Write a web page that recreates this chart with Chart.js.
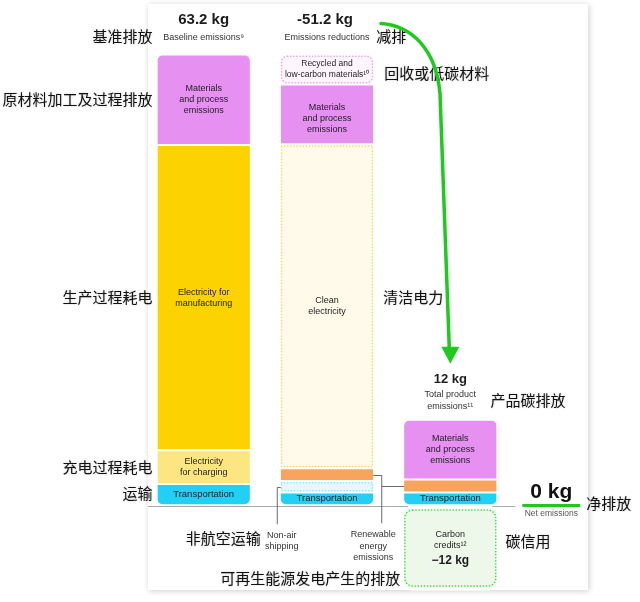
<!DOCTYPE html>
<html>
<head>
<meta charset="utf-8">
<script src="https://cdn.jsdelivr.net/npm/chart.js@4.4.1/dist/chart.umd.min.js"></script>
<style>
  html, body { margin: 0; padding: 0; background: #fff; }
  #wrap { width: 640px; height: 602px; }
</style>
</head>
<body>
<div id="wrap"><canvas id="footprint" width="640" height="602"></canvas></div>
<script>
// the three columns of the waterfall
const categories = ['Baseline emissions', 'Emissions reductions', 'Total product emissions'];
const headerValues = ['63.2 kg', '-51.2 kg', '12 kg'];

// kg CO2e of every slice, null where the column has no such slice (stacked bottom to top)
const transportation = [3.0, 1.8, 1.8];
const nonAirShipping = [null, 1.6, null];
const renewableEnergy = [null, 1.8, 1.8];
const chargingElectricity = [4.7, null, null];
const manufacturingElectricity = [42.8, null, null];
const cleanElectricity = [null, 45.4, null];
const materialsProcess = [12.7, 8.4, 8.4];
const recycledMaterials = [null, 4.2, null];
const carbonCredits = [null, null, -12];

const R = 6;
const FONT = '"Liberation Sans", Arial, sans-serif';
const CJK = '"Noto Sans CJK SC", sans-serif';
const materialsText = ['Materials', 'and process', 'emissions'];

// builds one dataset with the common look (white 1px top/bottom border = the gaps)
const mkSet = (key, data, color, extra) => Object.assign({
    key, label: key, data,
    backgroundColor: color,
    borderColor: '#ffffff',
    borderWidth: {top: 1, bottom: 1, left: 0, right: 0},
    borderSkipped: false,
    borderRadius: 0,
    categoryPercentage: 0.75,
    barPercentage: 1,
    segLabels: [null, null, null],
    labelSize: 9,
}, extra);

const datasets = [
    mkSet('transportation', transportation, '#22d0f5', {
        borderRadius: {topLeft: 0, topRight: 0, bottomLeft: R, bottomRight: R},
        segLabels: [['Transportation'], ['Transportation'], ['Transportation']],
        labelSize: 9.5,
    }),
    mkSet('nonAir', nonAirShipping, '#e5f8fd', {dotColor: '#8fe2f7'}),
    mkSet('renewable', renewableEnergy, '#f9a45e'),
    mkSet('charging', chargingElectricity, '#fde681', {
        segLabels: [['Electricity', 'for charging'], null, null],
    }),
    mkSet('manufacturing', manufacturingElectricity, '#fcd300', {
        segLabels: [['Electricity for', 'manufacturing'], null, null],
    }),
    mkSet('clean', cleanElectricity, '#fffae9', {
        dotColor: '#f8da5c',
        segLabels: [null, ['Clean', 'electricity'], null],
    }),
    mkSet('materials', materialsProcess, '#e690f2', {
        borderRadius: (ctx) => ctx.dataIndex === 1 ? 0 : {topLeft: R, topRight: R, bottomLeft: 0, bottomRight: 0},
        segLabels: [materialsText, materialsText, materialsText],
    }),
    mkSet('recycled', recycledMaterials, '#fdf6fd', {
        borderRadius: {topLeft: R, topRight: R, bottomLeft: R, bottomRight: R},
        dotColor: '#ec9ff5', dotRadius: R,
        segLabels: [null, ['Recycled and', 'low-carbon materials¹⁰'], null],
        labelSize: 8.5,
    }),
    mkSet('credits', carbonCredits, '#edf8ea', {
        borderWidth: {top: 4, bottom: 4, left: 0, right: 0},
        borderRadius: {topLeft: 8, topRight: 8, bottomLeft: 8, bottomRight: 8},
        dotColor: '#3edc45', dotRadius: 8,
        segLabels: [null, null, ['Carbon', 'credits¹²', {t: '\u221212 kg', bold: true}]],
    }),
];

const boxOf = (el) => {
    const p = el.getProps(['x', 'y', 'base', 'width'], true);
    return {l: p.x - p.width / 2, r: p.x + p.width / 2, t: Math.min(p.y, p.base), b: Math.max(p.y, p.base), cx: p.x, cy: (p.y + p.base) / 2};
};

const txt = (c, s, x, y, font, color, align) => {
    c.font = font; c.fillStyle = color || '#1d1d1f';
    c.textAlign = align || 'center'; c.textBaseline = 'middle';
    c.fillText(s, x, y);
};

const cjk = (c, s, x, y, align) => {
    c.save();
    c.shadowColor = 'rgba(0,0,0,0.25)'; c.shadowBlur = 2;
    txt(c, s, x, y, '15px ' + CJK, '#111', align);
    c.restore();
};

// everything drawn around the bars: card, zero line, outlines, labels, leaders, arrow
const annotate = {
    id: 'annotate',
    beforeDraw(chart) {
        const c = chart.ctx;
        c.save();
        c.fillStyle = '#fff';
        c.shadowColor = 'rgba(0,0,0,0.2)';
        c.shadowBlur = 6; c.shadowOffsetX = 1; c.shadowOffsetY = 1;
        c.fillRect(148, 4, 440, 586);
        c.restore();
    },
    beforeDatasetsDraw(chart) {
        const c = chart.ctx;
        const y0 = Math.round(chart.scales.y.getPixelForValue(0)) + 1.5;
        c.save();
        c.strokeStyle = '#a8a8a8'; c.lineWidth = 1;
        c.beginPath(); c.moveTo(148, y0); c.lineTo(chart.scales.x.getPixelForValue(2) + 65, y0); c.stroke();
        c.restore();
    },
    afterDatasetsDraw(chart) {
        const c = chart.ctx;
        const xs = chart.scales.x, ys = chart.scales.y;
        const idx = {};
        chart.data.datasets.forEach((ds, i) => { idx[ds.key] = i; });
        const seg = (key, col) => boxOf(chart.getDatasetMeta(idx[key]).data[col]);

        // dotted outlines and text inside slices
        chart.data.datasets.forEach((ds, i) => {
            chart.getDatasetMeta(i).data.forEach((el, col) => {
                if (ds.data[col] == null) return;
                const b = boxOf(el);
                if (ds.dotColor) {
                    const t = b.t + ds.borderWidth.top + 0.75, bt = b.b - ds.borderWidth.bottom - 0.75;
                    c.save();
                    c.strokeStyle = ds.dotColor; c.lineWidth = 1.6; c.lineCap = 'round';
                    c.setLineDash([0.1, 3]);
                    c.beginPath(); c.roundRect(b.l + 0.8, t, b.r - b.l - 1.6, bt - t, ds.dotRadius || 0); c.stroke();
                    c.restore();
                }
                const lines = ds.segLabels[col];
                if (!lines) return;
                const isBold = (l) => typeof l === 'object';
                const hs = lines.map(l => (isBold(l) ? 16 : 11));
                // the middle materials text sits a bit low in the reference
                let y = b.cy - hs.reduce((a, h) => a + h, 0) / 2 + (ds.key === 'materials' && col === 1 ? 4 : 0);
                lines.forEach((l, k) => {
                    const bold = isBold(l);
                    txt(c, bold ? l.t : l, b.cx, y + (bold ? hs[k] / 2 + 2 : hs[k] / 2),
                        bold ? 'bold 12px ' + FONT : ds.labelSize + 'px ' + FONT, '#1d1d1f');
                    y += hs[k];
                });
            });
        });

        // headers above the columns
        const top0 = ys.getPixelForValue(63.2), top2 = ys.getPixelForValue(12);
        const cx = [0, 1, 2].map(i => xs.getPixelForValue(i));
        txt(c, headerValues[0], cx[0], top0 - 35, 'bold 15px ' + FONT);
        txt(c, 'Baseline emissions⁹', cx[0], top0 - 17, '9px ' + FONT, '#333');
        txt(c, headerValues[1], cx[1] - 2, top0 - 35, 'bold 15px ' + FONT);
        txt(c, 'Emissions reductions', cx[1], top0 - 17, '9px ' + FONT, '#333');
        txt(c, headerValues[2], cx[2], top2 - 40, 'bold 13px ' + FONT);
        txt(c, 'Total product', cx[2], top2 - 25, '9px ' + FONT, '#333');
        txt(c, 'emissions¹¹', cx[2], top2 - 13, '9px ' + FONT, '#333');

        // chinese side notes
        const c0 = seg('materials', 0), c1 = seg('recycled', 1);
        const lx = c0.l - 5;
        cjk(c, '基准排放', lx, top0 - 18, 'right');
        cjk(c, '原材料加工及过程排放', lx, c0.cy, 'right');
        cjk(c, '生产过程耗电', lx, seg('manufacturing', 0).cy, 'right');
        cjk(c, '充电过程耗电', lx, seg('charging', 0).cy, 'right');
        cjk(c, '运输', lx, seg('transportation', 0).cy - 1, 'right');
        cjk(c, '减排', c1.r + 3, top0 - 18, 'left');
        cjk(c, '回收或低碳材料', c1.r + 11, c1.cy + 4, 'left');
        cjk(c, '清洁电力', c1.r + 10, seg('manufacturing', 0).cy, 'left');
        const c2 = seg('materials', 2), cc = seg('credits', 2);
        cjk(c, '产品碳排放', c2.r - 6, top2 - 19, 'left');
        cjk(c, '碳信用', c2.r + 9, cc.cy - 7, 'left');

        // leader lines for non-air shipping and renewable energy
        const y0 = ys.getPixelForValue(0);
        const na = seg('nonAir', 1), re1 = seg('renewable', 1), re2 = seg('renewable', 2);
        c.save();
        c.strokeStyle = '#6a6a6a'; c.lineWidth = 1;
        c.beginPath();
        c.moveTo(na.l, Math.round(na.cy) + 0.5); c.lineTo(na.l - 3.5, Math.round(na.cy) + 0.5); c.lineTo(na.l - 3.5, y0 + 19);
        c.moveTo(re1.r, Math.round(re1.cy) + 0.5); c.lineTo(re1.r + 8.5, Math.round(re1.cy) + 0.5); c.lineTo(re1.r + 8.5, y0 + 18);
        c.moveTo(re1.r + 8.5, Math.round(re2.cy) + 0.5); c.lineTo(re2.l, Math.round(re2.cy) + 0.5);
        c.stroke();
        c.restore();
        txt(c, 'Non-air', na.l + 1, y0 + 30, '9px ' + FONT, '#333');
        txt(c, 'shipping', na.l + 1, y0 + 41, '9px ' + FONT, '#333');
        txt(c, 'Renewable', re1.r, y0 + 29, '9px ' + FONT, '#333');
        txt(c, 'energy', re1.r, y0 + 41, '9px ' + FONT, '#333');
        txt(c, 'emissions', re1.r, y0 + 52, '9px ' + FONT, '#333');
        cjk(c, '非航空运输', na.l - 20, y0 + 33, 'right');
        cjk(c, '可再生能源发电产生的排放', re1.r + 27, y0 + 73, 'right');

        // net emissions
        const nx = cx[2] + 101;
        txt(c, '0 kg', nx, y0 - 13, 'bold 21px ' + FONT, '#111');
        c.fillStyle = '#22c722';
        c.fillRect(nx - 29, Math.round(y0) - 1, 58, 3);
        txt(c, 'Net emissions', nx, y0 + 8, '8.5px ' + FONT, '#555');
        cjk(c, '净排放', nx + 35, y0 - 2, 'left');

        // green arrow from the reductions header down to the product total
        const sx = cx[1] + 54, sy = top0 - 31;
        const ex = cx[2], ey = top2 - 56;
        c.save();
        c.strokeStyle = '#1fca1f'; c.fillStyle = '#1fca1f';
        c.lineWidth = 3.5; c.lineCap = 'round';
        c.beginPath();
        c.moveTo(sx, sy);
        c.bezierCurveTo(sx + 30, sy + 2, sx + 55, sy + 25, sx + 59, sy + 70);
        c.lineTo(ex - 1, ey - 14);
        c.stroke();
        c.beginPath();
        c.moveTo(ex - 9, ey - 17); c.lineTo(ex + 9, ey - 17); c.lineTo(ex, ey); c.closePath();
        c.fill();
        c.restore();
    },
};

new Chart(document.getElementById('footprint'), {
    type: 'bar',
    data: { labels: categories, datasets: datasets },
    options: {
        responsive: false,
        animation: false,
        devicePixelRatio: 1,
        layout: { padding: { left: 142, right: 128, top: 6, bottom: 4 } },
        scales: {
            x: { display: false, stacked: true },
            y: { display: false, stacked: true, min: -13, max: 70 },
        },
        plugins: {
            legend: { display: false },
            tooltip: { enabled: false },
            title: { display: false },
        },
    },
    plugins: [annotate],
});
</script>
</body>
</html>
